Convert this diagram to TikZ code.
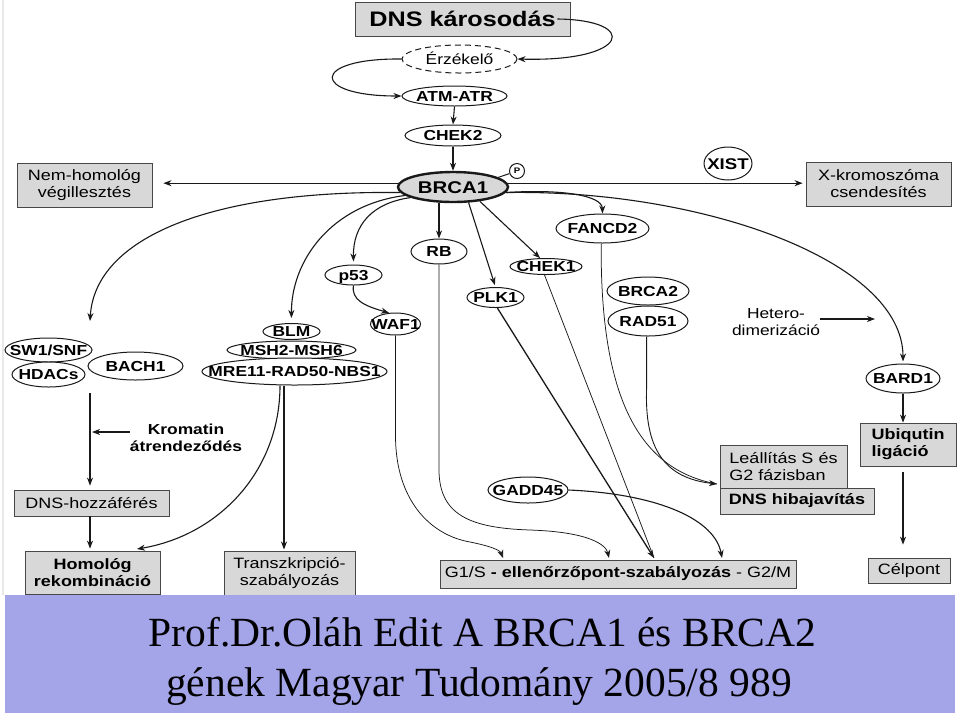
\documentclass[tikz,border=0pt]{standalone}
\usepackage{fontspec}
\setmainfont{Liberation Sans}
\usetikzlibrary{shapes.geometric,arrows.meta}
\newfontfamily\dsans[FakeStretch=1.2]{Liberation Sans}
\newfontfamily\tserif{Liberation Serif}
\definecolor{boxfill}{RGB}{216,216,216}
\definecolor{bandcol}{RGB}{164,164,232}
\definecolor{ink}{RGB}{25,25,25}
\newcommand\ct[1]{\makebox[0pt]{\smash{\raisebox{-0.36em}{#1}}}}
\begin{document}
\begin{tikzpicture}[x=1pt,y=-1pt,
 box/.style={draw=ink!80, fill=boxfill, line width=0.8pt, inner sep=0pt, align=center, font=\dsans\fontsize{15}{17}\selectfont},
 boldbox/.style={box, font=\dsans\bfseries\fontsize{15}{17}\selectfont},
 ell/.style={draw=ink, ellipse, line width=1pt, inner sep=0pt, fill=white, font=\dsans\bfseries\fontsize{14.5}{16}\selectfont},
 arr/.style={-{Stealth[length=8pt,width=6pt,inset=2.5pt]}, line width=1.1pt, draw=ink},
 thinl/.style={line width=0.75pt, draw=ink},
 lbl/.style={inner sep=0pt, align=center, font=\dsans\fontsize{14.5}{17}\selectfont},
]
\useasboundingbox (0,0) rectangle (960,716);
\fill[white] (0,0) rectangle (960,716);
\draw[gray!18, line width=1.2pt] (3,0) -- (3,595);

% ---- nodes ----
\node[boldbox, minimum width=215pt, minimum height=34pt, font=\dsans\bfseries\fontsize{21}{24}\selectfont] (dns) at (462.5,19) {DNS károsodás};
\node[ell, dash pattern=on 6pt off 4pt, font=\dsans\fontsize{14.5}{16}\selectfont, minimum width=115pt, minimum height=28pt] (erz) at (459.5,59) {\ct{Érzékelő}};
\node[ell, minimum width=105pt, minimum height=20pt] (atm) at (454.5,96) {\ct{ATM-ATR}};
\node[ell, minimum width=96pt, minimum height=21pt] (chek2) at (453,135.5) {\ct{CHEK2}};
\node[ell, fill=boxfill, line width=2.4pt, minimum width=110pt, minimum height=30pt, font=\dsans\bfseries\fontsize{17}{18}\selectfont] (brca1) at (453,187) {\ct{BRCA1}};
\node[circle, draw=ink, line width=1pt, minimum size=15pt, inner sep=0pt, font=\dsans\bfseries\fontsize{8}{8}\selectfont] (pc) at (517,171) {P};
\node[box, minimum width=135pt, minimum height=44pt] (nem) at (84.5,185) {Nem-homológ\\végillesztés};
\node[ell, minimum width=48pt, minimum height=33pt, font=\dsans\bfseries\fontsize{15.5}{16}\selectfont] (xist) at (728,163.5) {\ct{XIST}};
\node[box, minimum width=145pt, minimum height=44pt] (xk) at (878.5,184) {X-kromoszóma\\csendesítés};
\node[ell, minimum width=57pt, minimum height=20pt] (p53) at (353.5,275) {\ct{p53}};
\node[ell, minimum width=50pt, minimum height=22pt] (waf1) at (395.5,324) {\ct{WAF1}};
\node[ell, minimum width=56pt, minimum height=25pt] (rb) at (439,251.5) {\ct{RB}};
\node[ell, minimum width=57pt, minimum height=20pt] (plk1) at (495.5,297.5) {\ct{PLK1}};
\node[ell, minimum width=72pt, minimum height=16pt] (chek1) at (546,266.5) {\ct{CHEK1}};
\node[ell, minimum width=93pt, minimum height=29pt] (fancd2) at (602.5,228.5) {\ct{FANCD2}};
\node[ell, minimum width=82pt, minimum height=28pt] (brca2) at (648,291) {\ct{BRCA2}};
\node[ell, minimum width=80pt, minimum height=30pt] (rad51) at (648,321) {\ct{RAD51}};
\node[lbl] (het) at (776,322) {Hetero-\\dimerizáció};
\node[ell, minimum width=74pt, minimum height=29pt] (bard1) at (903,378.5) {\ct{BARD1}};
\node[boldbox, minimum width=96pt, minimum height=43pt, align=left] (ubi) at (908,444.5) {Ubiqutin\\ligáció};
\node[box, minimum width=82pt, minimum height=25pt] (celp) at (909,570.5) {Célpont};
\node[box, minimum width=127pt, minimum height=43pt, align=left] (leall) at (783.5,466.5) {Leállítás S és\\G2 fázisban};
\node[boldbox, minimum width=154pt, minimum height=26pt] (hiba) at (797,501) {DNS hibajavítás};
\node[ell, minimum width=80pt, minimum height=26pt] (gadd) at (528,490) {\ct{GADD45}};
\node[box, minimum width=356pt, minimum height=28pt] (g1s) at (618,574) {G1/S \textbf{- ellenőrzőpont-szabályozás} - G2/M};
\node[ell, minimum width=87pt, minimum height=24pt] (sw1) at (48.5,350) {\ct{SW1/SNF}};
\node[ell, minimum width=73pt, minimum height=25pt] (hdac) at (48.5,374.5) {\ct{HDACs}};
\node[ell, minimum width=95pt, minimum height=28pt] (bach1) at (135.5,366) {\ct{BACH1}};
\node[lbl, font=\dsans\bfseries\fontsize{14.5}{17}\selectfont] (krom) at (186,438) {Kromatin\\átrendeződés};
\node[box, minimum width=155pt, minimum height=26pt] (dnsh) at (91.5,503) {DNS-hozzáférés};
\node[boldbox, minimum width=135pt, minimum height=43pt] (hom) at (92.5,572.5) {Homológ\\rekombináció};
\node[ell, minimum width=57pt, minimum height=16pt] (blm) at (291.5,331.5) {\ct{BLM}};
\node[ell, minimum width=129pt, minimum height=18pt] (msh) at (291.5,350) {\ct{MSH2-MSH6}};
\node[ell, minimum width=185pt, minimum height=27pt] (mre) at (294.5,371.5) {\ct{MRE11-RAD50-NBS1}};
\node[box, minimum width=131pt, minimum height=44pt] (trans) at (289.5,573) {Transzkripció-\\szabályozás};

% ---- free ends ----
\coordinate (sw1top) at (90,321);
\coordinate (t1) at (503,558);
\coordinate (t2) at (609,558);
\coordinate (t3) at (654,558);
\coordinate (t4) at (722,558);
\coordinate (t5) at (717,484);
\coordinate (t6) at (875,319);
\coordinate (t7) at (92,432);
\coordinate (t8) at (137,549);
\coordinate (sv) at (90,393);

% ---- connectors ----
\draw[arr] ([xshift=-13pt]dns.east) .. controls (640,20) and (630,62) .. (erz.east);
\draw[arr] (erz.west) .. controls (310,58) and (310,96) .. (atm.west);
\draw[arr] (atm.south) -- (chek2.north);
\draw[arr] (chek2.south) -- (brca1.north);
\draw[line width=1pt, draw=ink] (brca1.12) -- (pc);
\draw[arr, shorten >=11pt] (brca1.176) -- (brca1.176 -| nem.east);
\draw[arr, shorten >=3pt] (brca1.4) -- (brca1.4 -| xk.west);
\draw[arr] (brca1.186) .. controls (210,190) and (95,238) .. (sw1top);
\draw[arr, shorten >=5pt] (brca1.190) .. controls (330,205) and (291,262) .. (blm.north);
\draw[arr, shorten >=3pt] (brca1.194) .. controls (372,203) and (353,225) .. (p53.north);
\draw[arr] (brca1.south -| rb.north) -- (rb.north);
\draw[arr, shorten >=2pt] (brca1.-45) -- (plk1.north);
\draw[arr] (brca1.-28) -- (chek1.125);
\draw[arr] (brca1.-6) .. controls (560,189) and (602,195) .. (fancd2.north);
\draw[arr, shorten >=2pt] (brca1.-6) .. controls (700,189) and (903,260) .. (bard1.north);
\draw[arr] (p53.south) .. controls (351,300) and (365,306) .. (waf1.120);
\draw[arr, thinl] (waf1.south) -- ++(0,100) .. controls (395.5,500) and (430,535) .. (470,542) .. controls (490,546) and (500,550) .. (t1);
\draw[arr, thinl] (rb.south) -- ++(0,205) .. controls (439,515) and (470,528) .. (530,530) .. controls (590,532) and (606,545) .. (t2);
\draw[arr, line width=1.3pt] (plk1.-80) -- (t3);
\draw[thinl] (chek1.-100) -- (t3);
\draw[arr] (gadd.east) .. controls (660,494) and (715,520) .. (t4);
\draw[thinl] (fancd2.-95) .. controls (600,400) and (640,470) .. (t5);
\draw[arr, line width=0.9pt] (rad51.-95) -- ++(0,50) .. controls (644,450) and (665,478) .. (t5);
\draw[arr] ([yshift=3pt]het.east) -- (t6);
\draw[arr] (bard1.south) -- (bard1.south |- ubi.north);
\draw[arr, shorten <=6pt, shorten >=13pt] (ubi.south -| bard1.south) -- (celp.north -| bard1.south);
\draw[arr] ([yshift=6pt]krom.west) -- (t7);
\draw[arr, shorten >=4pt] (sv) -- (sv |- dnsh.north);
\draw[arr, shorten >=2pt] (dnsh.south -| sv) -- (hom.north -| sv);
\draw[arr] ([xshift=-14.5pt]mre.south) .. controls (280,470) and (220,535) .. (t8);
\draw[arr] ([xshift=-10.5pt]mre.south) -- ++(0,164);

% ---- caption band ----
\fill[bandcol] (5,595) rectangle (955,713);
\node[anchor=base, inner sep=0pt, font=\tserif\fontsize{41.5}{44}\selectfont] (cap1) at (482.5,646) {Prof.Dr.Oláh Edit A BRCA1 és BRCA2};
\node[anchor=base, inner sep=0pt, font=\tserif\fontsize{41.5}{44}\selectfont] (cap2) at (479,696) {gének Magyar Tudomány 2005/8 989};
\end{tikzpicture}
\end{document}
